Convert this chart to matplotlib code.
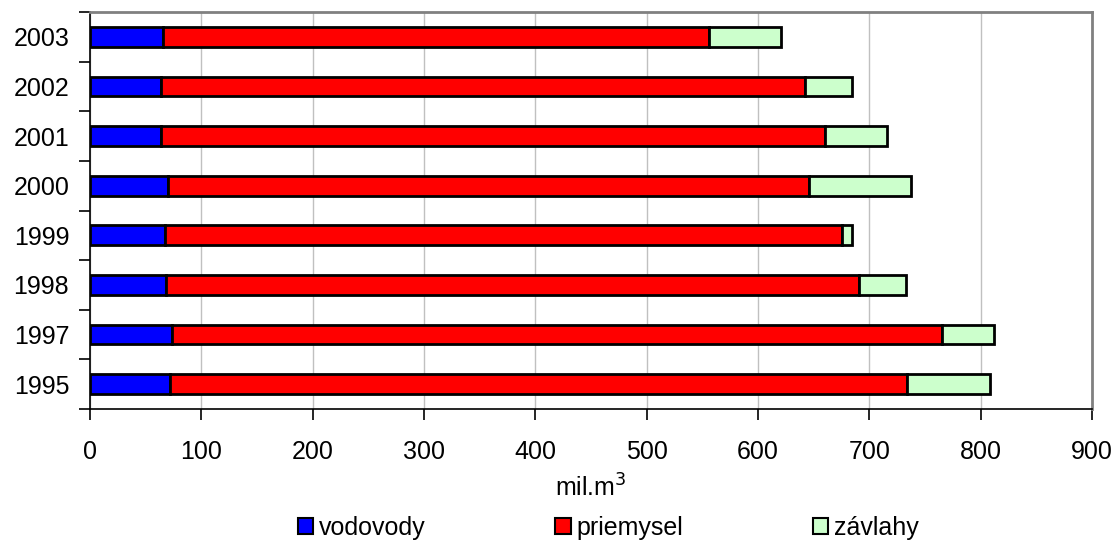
import numpy as np
import matplotlib.pyplot as plt
from matplotlib.patches import Patch

plt.rcParams['font.family'] = ['Liberation Sans', 'DejaVu Sans']

# roky a odbery vody (mil. m3)
roky = ['1995', '1997', '1998', '1999', '2000', '2001', '2002', '2003']
vodovody = [72, 74, 68, 67, 70, 64, 64, 66]
priemysel = [662, 691, 623, 608, 576, 596, 578, 490]
zavlahy = [74, 47, 42, 9, 91, 56, 42, 65]

x_ticks = list(range(0, 1000, 100))
fs = 18

fig = plt.figure(figsize=(11.17, 5.4), dpi=100)
ax = fig.add_axes([90 / 1117, 1 - 409 / 540, 1002 / 1117, 397 / 540])

y = np.arange(len(roky))
v = np.array(vodovody)
p = np.array(priemysel)
z = np.array(zavlahy)
h = 0.4
kw = dict(height=h, edgecolor='black', linewidth=2.0, zorder=3)
ax.barh(y, v, color='#0000ff', label='vodovody', **kw)
ax.barh(y, p, left=v, color='#ff0000', label='priemysel', **kw)
ax.barh(y, z, left=v + p, color='#ccffcc', label='závlahy', **kw)

ax.set_xlim(0, 900)
ax.set_ylim(-0.5, len(roky) - 0.5)
ax.set_xticks(x_ticks)
ax.set_xticklabels([str(t) for t in x_ticks], fontsize=fs)
ax.set_yticks(y)
ax.set_yticklabels(roky, fontsize=fs)
ax.set_yticks(np.arange(-0.5, len(roky), 1.0), minor=True)
ax.tick_params(axis='y', which='major', length=0, pad=15)
ax.tick_params(axis='y', which='minor', length=8, width=1.2)
ax.tick_params(axis='x', length=8, width=1.2, pad=14)

ax.grid(axis='x', color='#c0c0c0', linewidth=1.0, zorder=0)
ax.set_axisbelow(True)
for s in ['top', 'right']:
    ax.spines[s].set_color('#808080')
    ax.spines[s].set_linewidth(2)
for s in ['left', 'bottom']:
    ax.spines[s].set_color('black')
    ax.spines[s].set_linewidth(1.2)

ax.set_xlabel('mil.m$^3$', fontsize=fs, labelpad=8)

handles = [Patch(facecolor='#0000ff', edgecolor='black', linewidth=1.5),
           Patch(facecolor='#ff0000', edgecolor='black', linewidth=1.5),
           Patch(facecolor='#ccffcc', edgecolor='black', linewidth=1.5)]
fig.legend(handles, ['vodovody', 'priemysel', 'závlahy'], ncol=3,
           loc='center left', bbox_to_anchor=(285 / 1117, 1 - 528 / 540),
           frameon=False, fontsize=fs, handlelength=0.62, handleheight=0.62,
           handletextpad=0.22, columnspacing=5.2, borderpad=0)

fig.savefig('out.png', dpi=100)
